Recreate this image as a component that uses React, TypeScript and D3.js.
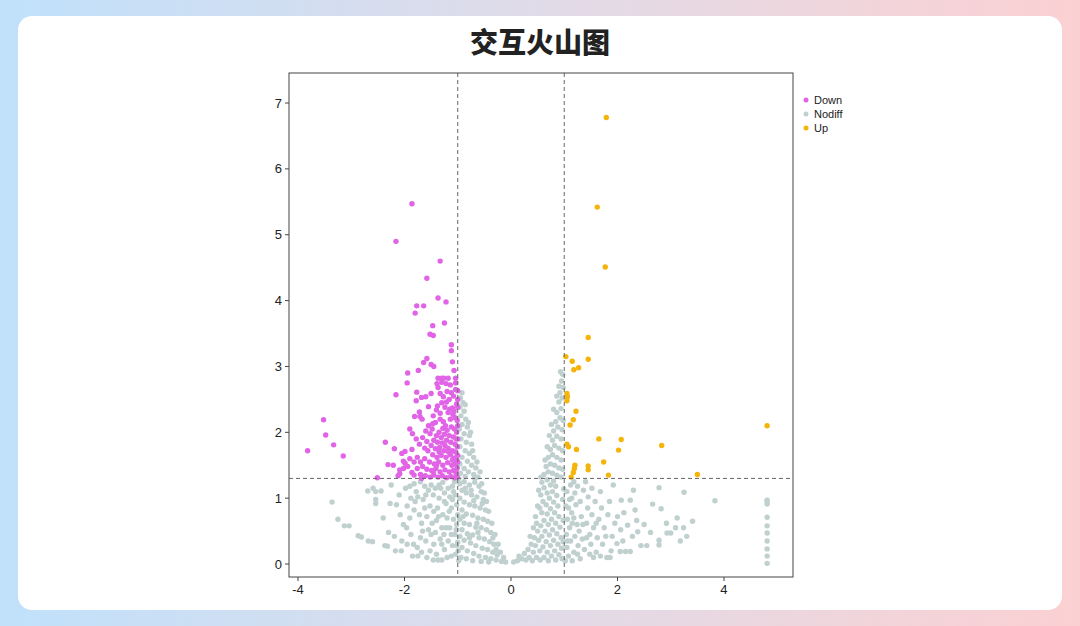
import React from "react";
import * as d3 from "d3";

type P = [number, number];

const title = "交互火山图";
const groups = ["Down", "Nodiff", "Up"];
const groupColors = ["#e163e6", "#bfd0cf", "#f5b40a"];
const xTicks = [-4, -2, 0, 2, 4];
const yTicks = [0, 1, 2, 3, 4, 5, 6, 7];
const fcThresholds = [-1, 1];
const pThreshold = 1.3;

const downPoints: P[] = [
  [-1.86,5.47],[-2.16,4.90],[-1.33,4.60],[-1.58,4.34],[-1.37,4.04],[-1.22,3.98],[-1.77,3.92],[-1.64,3.92],[-1.80,3.81],[-1.25,3.66],[-1.47,3.62],[-1.52,3.49],[-1.46,3.47],[-1.12,3.33],[-1.12,3.24],[-1.58,3.12],[-1.64,3.06],[-1.10,3.07],[-1.50,3.03],[-1.45,3.00],[-1.94,2.90],[-1.74,2.94],[-1.07,2.94],
  [-1.37,2.82],[-1.30,2.82],[-1.26,2.82],[-1.18,2.82],[-1.04,2.82],[-1.95,2.75],[-1.39,2.74],[-1.30,2.76],[-1.22,2.74],[-1.04,2.75],[-1.37,2.68],[-1.04,2.65],[-1.00,2.63],[-2.16,2.57],[-1.77,2.61],[-1.50,2.59],[-1.33,2.59],[-1.27,2.54],[-1.78,2.48],[-1.68,2.53],[-1.60,2.54],[-1.21,2.46],[-1.02,2.43],[-1.55,2.39],[-1.72,2.31],[-1.40,2.34],[-1.33,2.29],[-1.15,2.35],[-1.10,2.37],[-1.07,2.32],[-1.81,2.24],[-1.71,2.24],[-1.67,2.20],[-1.46,2.25],[-1.47,2.13],
  [-1.33,2.20],[-1.27,2.16],[-1.23,2.10],[-1.18,2.30],[-1.14,2.20],[-1.09,2.27],[-1.05,2.22],[-1.01,2.18],[-1.28,2.06],[-1.20,2.03],[-1.12,2.08],[-1.06,2.05],[-1.02,2.00],[-1.35,2.00],[-1.40,1.95],[-1.31,1.92],[-1.25,1.97],[-1.16,1.95],[-1.08,1.93],[-1.03,1.90],[-1.45,1.88],[-1.38,1.85],[-1.29,1.84],[-1.21,1.88],[-1.13,1.85],[-1.05,1.82],[-1.01,1.78],[-1.50,1.80],[-1.42,1.75],[-1.34,1.77],[-1.26,1.72],[-1.18,1.76],[-1.10,1.72],[-1.04,1.70],[-1.56,1.72],[-1.47,1.66],[-1.39,1.62],[-1.31,1.65],[-1.22,1.62],[-1.14,1.66],[-1.07,1.61],[-1.02,1.58],[-1.62,1.60],[-1.53,1.55],[-1.44,1.52],[-1.36,1.55],[-1.28,1.50],[-1.19,1.54],[-1.11,1.50],[-1.05,1.52],[-1.01,1.46],[-1.66,1.48],[-1.58,1.44],[-1.49,1.42],[-1.41,1.45],[-1.33,1.40],[-1.24,1.43],[-1.16,1.40],[-1.08,1.42],[-1.03,1.38],[-1.70,1.36],[-1.61,1.34],[-1.52,1.32],[-1.45,1.35],[-1.37,1.32],[-1.29,1.34],[-1.21,1.31],[-1.13,1.33],[-1.06,1.31],[-1.01,1.32],
  [-3.52,2.19],[-3.48,1.96],[-3.33,1.81],[-3.82,1.72],[-3.15,1.64],[-2.36,1.85],[-2.19,1.75],[-2.05,1.68],[-1.99,1.71],[-1.86,1.74],[-2.31,1.51],[-2.21,1.50],[-2.02,1.56],[-1.99,1.53],[-2.09,1.43],[-2.02,1.45],[-1.94,1.48],[-1.86,1.39],[-2.51,1.31],[-2.12,1.34],[-2.09,1.37],[-1.68,1.30],
  [-1.90,2.05],[-1.85,1.98],[-1.78,1.90],[-1.72,1.82],[-1.66,1.92],[-1.60,2.02],[-1.55,2.10],[-1.62,1.76],[-1.76,1.62],[-1.82,1.55],[-1.70,1.55],[-1.58,1.86],[-1.52,1.98],[-1.48,2.05],[-1.42,2.15],[-1.38,2.40],[-1.30,2.45],[-1.24,2.38],[-1.16,2.50],[-1.12,2.60],[-1.08,2.55],[-1.20,2.62],[-1.14,2.72],[-1.00,2.50],[-1.00,2.38],[-1.00,2.10],[-1.00,1.90],[-1.00,1.65],[-1.00,1.55],[-1.03,1.43],[-1.10,1.58],[-1.17,1.70],[-1.24,1.80],[-1.35,1.70],[-1.40,1.50],[-1.46,1.40],[-1.90,1.60],[-1.76,1.45],[-1.82,1.35]
];

const upPoints: P[] = [
  [1.79,6.78],[1.62,5.42],[1.77,4.51],[1.45,3.44],[1.45,3.11],[1.03,3.15],[1.15,3.08],[1.18,2.95],[1.27,2.98],[1.05,2.59],[1.06,2.54],[1.05,2.48],[1.22,2.32],[1.17,2.19],[1.11,2.11],[4.81,2.10],[1.65,1.90],[2.07,1.89],[2.02,1.73],[2.83,1.80],[1.05,1.82],[1.08,1.78],[1.23,1.74],[1.74,1.55],[1.20,1.50],[1.19,1.45],[1.17,1.39],[1.45,1.49],[1.45,1.43],[1.13,1.32],[1.83,1.35],[3.50,1.36]
];

const nodiffPoints: P[] = [
  [-3.36,0.94],[-3.25,0.68],[-3.13,0.58],[-3.04,0.58],[-2.87,0.43],[-2.81,0.41],[-2.68,0.35],[-2.60,0.34],[-2.37,0.28],[-2.32,0.27],[-2.17,0.20],[-2.06,0.20],[-2.69,1.11],[-2.59,1.15],[-2.54,1.10],[-2.44,1.11],[-2.54,0.98],[-2.54,0.92],[-2.27,0.92],[-2.15,0.90],[-2.30,0.48],[-2.19,0.42],[-2.40,0.70],[-2.25,1.20],[-2.10,1.05],[-2.08,0.75],[-2.02,0.60],[-2.05,0.35],
  [-1.85,0.12],[-1.75,0.12],[-1.46,0.06],[-1.37,0.06],[-1.30,0.06],[-1.98,1.15],[-1.90,1.18],[-1.82,1.22],[-1.78,1.10],[-1.80,0.95],[-1.82,0.82],[-1.95,0.88],[-1.96,0.55],[-1.88,0.45],[-1.83,0.30],[-1.76,0.25],[-1.70,0.40],[-1.68,0.62],[-1.72,0.75],[-1.65,0.98],[-1.62,1.18],[-1.55,1.12],[-1.50,1.20],[-1.46,1.05],[-1.52,0.88],[-1.58,0.72],[-1.55,0.52],[-1.60,0.35],[-1.52,0.20],[-1.45,0.30],[-1.42,0.48],[-1.40,0.66],[-1.38,0.85],[-1.35,1.00],[-1.32,1.15],[-1.28,1.24],[-1.25,1.08],[-1.22,0.92],[-1.28,0.75],[-1.30,0.55],[-1.33,0.38],[-1.25,0.22],[-1.20,0.10],[-1.18,0.35],[-1.15,0.55],[-1.20,0.70],[-1.12,0.85],[-1.15,1.02],[-1.10,1.18],[-1.06,1.25],[-1.05,1.05],[-1.08,0.68],[-1.05,0.45],[-1.10,0.28],[-1.04,0.15],[-1.02,0.90],[-1.02,0.60],[-1.00,0.33],[-1.00,0.75],[-1.12,0.12],[-1.68,0.18],[-1.90,0.70],[-1.40,0.15],[-1.26,0.45],[-1.48,0.62],[-1.62,0.85],[-1.75,1.02],[-1.35,1.20],[-1.18,1.15],[-1.10,0.98],[-1.58,0.10],
  [-1.95,0.30],[-1.88,1.00],[-1.70,1.25],[-1.66,0.50],[-1.60,1.05],[-1.50,0.45],[-1.45,0.80],[-1.42,1.15],[-1.36,0.72],[-1.30,0.30],[-1.22,0.55],[-1.16,0.80],[-1.12,0.45],[-1.08,1.10],[-1.03,0.52],[-1.02,0.28],[-1.25,0.95],
  [-0.92,2.60],[-0.95,2.52],[-0.90,2.45],[-0.96,2.38],[-0.88,2.32],[-0.94,2.25],[-0.85,2.20],[-0.92,2.12],[-0.82,2.08],[-0.97,2.05],[-0.88,1.98],[-0.78,1.95],[-0.94,1.90],[-0.84,1.85],[-0.74,1.82],[-0.96,1.78],[-0.86,1.72],[-0.78,1.68],[-0.70,1.62],[-0.92,1.62],[-0.82,1.56],[-0.96,1.52],[-0.74,1.50],[-0.66,1.46],[-0.88,1.45],[-0.80,1.40],[-0.95,1.38],[-0.70,1.36],[-0.62,1.32],[-0.86,1.33],
  [-0.58,1.40],[-0.64,1.55],[-0.72,1.72],[-0.80,2.15],[-0.86,2.42],[-0.76,2.00],[-0.68,1.30],
  [-0.96,1.22],[-0.88,1.25],[-0.78,1.20],[-0.68,1.24],[-0.60,1.18],[-0.56,1.10],[-0.92,1.12],[-0.84,1.08],[-0.74,1.05],[-0.64,1.02],[-0.52,0.98],[-0.96,1.00],[-0.88,0.94],[-0.78,0.90],[-0.68,0.88],[-0.58,0.85],[-0.48,0.82],[-0.92,0.82],[-0.84,0.76],[-0.72,0.74],[-0.62,0.70],[-0.52,0.68],[-0.44,0.65],[-0.96,0.68],[-0.88,0.62],[-0.78,0.60],[-0.66,0.56],[-0.56,0.55],[-0.46,0.52],[-0.38,0.48],[-0.92,0.52],[-0.82,0.46],[-0.72,0.44],[-0.60,0.40],[-0.50,0.38],[-0.40,0.34],[-0.32,0.30],[-0.96,0.42],[-0.88,0.36],[-0.76,0.32],[-0.66,0.28],[-0.54,0.24],[-0.44,0.22],[-0.34,0.18],[-0.26,0.14],[-0.92,0.25],[-0.82,0.20],[-0.70,0.16],[-0.60,0.12],[-0.48,0.10],[-0.38,0.08],[-0.28,0.06],[-0.18,0.04],[-0.10,0.03],[-0.94,0.10],[-0.84,0.08],[-0.72,0.05],[-0.56,0.04],[-0.42,0.03],[-0.98,0.05],[-0.64,0.62],[-0.70,0.96],[-0.54,0.92],[-0.90,0.72],[-0.86,1.15],[-0.75,1.12],[-0.98,1.30],[-0.99,0.20],[-0.78,0.40],[-0.62,0.48],
  [-0.55,1.22],[-0.50,1.08],[-0.46,0.95],[-0.42,0.80],[-0.36,0.62],[-0.30,0.45],[-0.24,0.30],[-0.20,0.18],[-0.14,0.10],[-0.34,0.40],[-0.28,0.22],
  [0.05,0.03],[0.12,0.05],[0.20,0.08],[0.15,0.12],[0.28,0.06],[0.25,0.16],[0.34,0.10],[0.32,0.22],[0.40,0.05],[0.42,0.18],[0.38,0.30],[0.48,0.10],[0.46,0.28],[0.44,0.40],[0.55,0.06],[0.54,0.20],[0.52,0.36],[0.50,0.50],[0.62,0.10],[0.60,0.26],[0.58,0.42],[0.56,0.58],[0.48,0.62],[0.70,0.05],[0.68,0.18],[0.66,0.34],[0.64,0.50],[0.62,0.66],[0.58,0.78],[0.54,0.85],[0.76,0.12],[0.74,0.28],[0.72,0.44],[0.70,0.60],[0.68,0.76],[0.66,0.90],[0.60,0.95],[0.56,1.05],[0.84,0.06],[0.82,0.20],[0.80,0.36],[0.78,0.52],[0.76,0.68],[0.74,0.84],[0.72,1.00],[0.68,1.08],[0.62,1.16],[0.58,1.24],[0.90,0.14],[0.88,0.30],[0.86,0.46],[0.84,0.62],[0.82,0.78],[0.80,0.94],[0.78,1.10],[0.74,1.20],[0.68,1.28],[0.96,0.08],[0.95,0.24],[0.94,0.40],[0.92,0.56],[0.90,0.72],[0.88,0.88],[0.86,1.04],[0.84,1.18],[0.80,1.26],[0.98,0.66],[0.97,0.98],[0.99,1.14],[0.98,0.34],
  [0.36,0.42],[0.42,0.55],[0.46,0.72],[0.50,0.88],[0.52,1.12],[0.56,1.32],[0.64,1.58],[0.68,1.78],[0.72,1.95],[0.76,2.12],[0.80,2.35],[0.86,2.55],[0.90,2.70],[0.93,2.92],
  [0.62,1.36],[0.70,1.40],[0.78,1.38],[0.86,1.35],[0.94,1.32],[0.66,1.48],[0.74,1.52],[0.82,1.50],[0.90,1.46],[0.97,1.44],[0.70,1.62],[0.78,1.66],[0.86,1.62],[0.94,1.58],[0.74,1.74],[0.82,1.80],[0.90,1.76],[0.97,1.72],[0.78,1.88],[0.86,1.94],[0.94,1.90],[0.80,2.02],[0.88,2.08],[0.96,2.04],[0.84,2.16],[0.92,2.22],[0.98,2.18],[0.86,2.30],[0.94,2.36],[0.90,2.46],[0.96,2.52],[0.92,2.60],[0.98,2.68],[0.95,2.78],[0.97,2.88],
  [1.02,0.05],[1.08,0.12],[1.05,0.25],[1.12,0.35],[1.04,0.45],[1.10,0.55],[1.06,0.68],[1.14,0.78],[1.03,0.88],[1.10,0.98],[1.05,1.10],[1.12,1.20],[1.18,1.25],[1.20,1.08],[1.22,0.90],[1.18,0.70],[1.24,0.60],[1.20,0.42],[1.26,0.28],[1.18,0.18],[1.30,0.08],[1.28,0.50],[1.32,0.72],[1.30,0.95],[1.36,1.12],[1.34,0.38],[1.38,0.22],[1.42,0.62],[1.44,0.85],[1.45,1.02],[1.48,0.45],[1.50,0.30],[1.52,0.75],[1.55,0.55],[1.58,0.95],[1.60,0.18],[1.62,0.40],[1.65,0.68],[1.68,1.10],[1.70,0.85],[1.72,0.30],[1.75,0.55],[1.80,0.10],[1.86,0.10],[1.82,0.75],[1.85,0.95],[1.90,0.42],[1.95,0.62],[1.99,0.31],[2.05,0.19],[2.15,0.19],[2.24,0.19],[2.07,0.97],[2.24,0.97],[2.33,0.82],[2.36,0.66],[2.38,0.49],[2.19,0.59],[2.06,0.52],[2.44,0.28],[2.55,0.28],[2.78,0.36],[2.78,0.29],[2.93,0.47],[3.00,0.47],[3.18,0.35],[3.09,0.55],[3.24,0.55],[3.41,0.65],[2.66,0.91],[2.82,0.84],[2.78,1.16],[3.25,1.09],[3.83,0.96],[1.92,1.20],[2.12,0.78],[1.40,1.25],[1.15,0.05],[1.25,0.15],[1.55,0.10],
  [1.06,0.35],[1.15,0.62],[1.08,0.85],[1.14,1.00],[1.25,1.18],[1.35,0.60],[1.42,0.40],[1.48,0.15],[1.52,1.15],[1.60,0.62],[1.78,0.42],[1.88,0.20],[1.68,0.12],[2.00,0.72],[2.10,0.35],[2.28,0.42],[2.50,0.60],[2.62,0.48],[2.30,1.12],[2.92,0.62],[3.12,0.70],[3.30,0.42],
  [4.81,0.97],[4.81,0.95],[4.81,0.91],[4.81,0.71],[4.81,0.58],[4.81,0.47],[4.81,0.35],[4.81,0.23],[4.81,0.12],[4.81,0.01]
];

const W = 1080;
const H = 626;
const plot = { left: 289, right: 793, top: 73, bottom: 577 };

export default function App() {
  const x = d3.scaleLinear().domain([-4.169, 5.296]).range([plot.left, plot.right]);
  const y = d3.scaleLinear().domain([-0.197, 7.456]).range([plot.bottom, plot.top]);
  const series: P[][] = [downPoints, nodiffPoints, upPoints];
  const drawOrder = [1, 0, 2];
  const font = "'Liberation Sans', Arial, sans-serif";

  return (
    <svg width={W} height={H} style={{ position: "fixed", left: 0, top: 0 }} xmlns="http://www.w3.org/2000/svg">
      <defs>
        <linearGradient id="bg" x1="0" y1="0" x2="1" y2="0">
          <stop offset="0%" stopColor="#c0e1fb" />
          <stop offset="50%" stopColor="#e0dbe8" />
          <stop offset="100%" stopColor="#fbd0d2" />
        </linearGradient>
        <clipPath id="clip">
          <rect x={plot.left} y={plot.top} width={plot.right - plot.left} height={plot.bottom - plot.top} />
        </clipPath>
      </defs>
      <rect x={0} y={0} width={W} height={H} fill="url(#bg)" />
      <rect x={18} y={16} width={1044} height={594} rx={14} fill="#ffffff" />
      <text x={540} y={53} textAnchor="middle" fontSize={28} fontWeight={900} fill="#222" fontFamily="'Noto Sans CJK SC', sans-serif">{title}</text>

      <g clipPath="url(#clip)">
        {drawOrder.map((gi) =>
          series[gi].map((d, i) => (
            <circle key={gi + "-" + i} cx={x(d[0])} cy={y(d[1])} r={2.7} fill={groupColors[gi]} />
          ))
        )}
        {fcThresholds.map((t) => (
          <line key={t} x1={x(t)} x2={x(t)} y1={plot.top} y2={plot.bottom} stroke="#666" strokeWidth={1} strokeDasharray="4,3" />
        ))}
        <line x1={plot.left} x2={plot.right} y1={y(pThreshold)} y2={y(pThreshold)} stroke="#666" strokeWidth={1} strokeDasharray="4,3" />
      </g>

      <rect x={plot.left} y={plot.top} width={plot.right - plot.left} height={plot.bottom - plot.top} fill="none" stroke="#444" strokeWidth={1} />

      {xTicks.map((t) => (
        <g key={"x" + t}>
          <line x1={x(t)} x2={x(t)} y1={plot.bottom} y2={plot.bottom + 4} stroke="#444" />
          <text x={x(t)} y={plot.bottom + 17} textAnchor="middle" fontSize={13} fill="#222" fontFamily={font}>{t}</text>
        </g>
      ))}
      {yTicks.map((t) => (
        <g key={"y" + t}>
          <line x1={plot.left - 4} x2={plot.left} y1={y(t)} y2={y(t)} stroke="#444" />
          <text x={plot.left - 7} y={y(t) + 4.5} textAnchor="end" fontSize={13} fill="#222" fontFamily={font}>{t}</text>
        </g>
      ))}

      {groups.map((g, i) => (
        <g key={g} transform={`translate(806, ${100 + i * 14})`}>
          <circle cx={0} cy={0} r={2.5} fill={groupColors[i]} />
          <text x={8} y={4} fontSize={11} fill="#222" fontFamily={font}>{g}</text>
        </g>
      ))}
    </svg>
  );
}
